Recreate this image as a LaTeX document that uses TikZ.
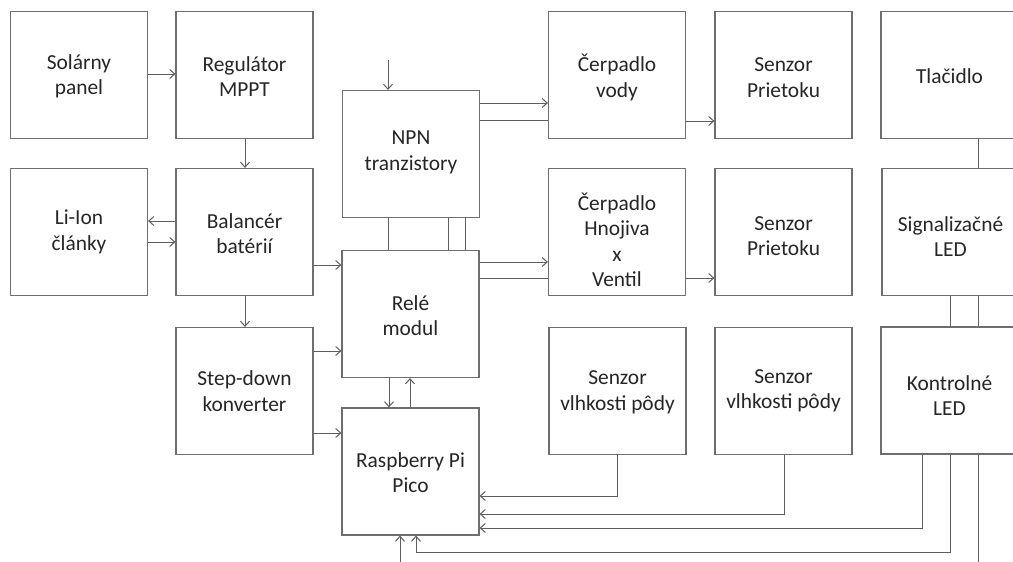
\documentclass[tikz,border=0pt]{standalone}
\usepackage{fontspec}
\setmainfont{Carlito}
\usetikzlibrary{arrows.meta,calc}
\definecolor{boxgray}{HTML}{6E6E6E}
\definecolor{linegray}{HTML}{5E5E5E}
\definecolor{txt}{HTML}{262626}
\newcommand\mybx[4]{\node[box,label={[lbl,yshift=#3]center:{#4}}] (#1) at (#2) {};}
\begin{document}
\begin{tikzpicture}[x=1pt,y=-1pt,
  box/.style={draw=boxgray,line width=1.2pt,minimum width=137pt,minimum height=127pt,inner sep=0pt},
  lbl/.style={inner sep=0pt,align=center,text=txt,font=\fontsize{21.4}{25.5}\selectfont},
  ln/.style={draw=linegray,line width=1pt},
  arr/.style={ln,-{Straight Barb[length=5pt,width=9pt,line width=1pt]}}]
\clip (0,0) rectangle (1013,562);
\fill[white] (0,0) rectangle (1013,562);
% boxes
\mybx{sol}{79,75}{-1.5pt}{Solárny\\panel}
\mybx{reg}{244.5,75}{-1.5pt}{Regulátor\\MPPT}
\mybx{li}{79,232}{0pt}{Li-Ion\\články}
\mybx{bal}{244.5,232}{-1.5pt}{Balancér\\batérií}
\mybx{sd}{244.5,391}{0pt}{Step-down\\konverter}
\mybx{npn}{411,154}{1.5pt}{NPN\\tranzistory}
\mybx{rele}{410.5,314}{-1.5pt}{Relé\\modul}
\mybx{pico}{410.5,471.5}{-1pt}{Raspberry Pi\\Pico}
\mybx{cv}{617,75}{-2.5pt}{Čerpadlo\\vody}
\mybx{ch}{617,232}{-8pt}{Čerpadlo\\Hnojiva\\x\\Ventil}
\mybx{sp1}{783.5,75}{-2.5pt}{Senzor\\Prietoku}
\mybx{sp2}{783.5,232}{-4pt}{Senzor\\Prietoku}
\mybx{sv1}{617.5,391}{-1.5pt}{Senzor\\vlhkosti pôdy}
\mybx{sv2}{783.5,391}{0pt}{Senzor\\vlhkosti pôdy}
\mybx{tl}{949.5,75}{-1pt}{Tlačidlo}
\mybx{sig}{950.5,232}{-4.5pt}{Signalizačné\\LED}
\mybx{kon}{949.5,390.5}{-5pt}{Kontrolné\\LED}
% power path
\draw[arr] (sol.east |- 0,74) -- (reg.west |- 0,74);
\draw[arr] (reg.south -| 245,0) -- (bal.north -| 245,0);
\draw[arr] (bal.west |- 0,221) -- (li.east |- 0,221);
\draw[arr] (li.east |- 0,242) -- (bal.west |- 0,242);
\draw[arr] (bal.east |- 0,265) -- (rele.west |- 0,265);
\draw[arr] (bal.south -| 245,0) -- (sd.north -| 245,0);
\draw[arr] (sd.east |- 0,351) -- (rele.west |- 0,351);
\draw[arr] (sd.east |- 0,433) -- (pico.west |- 0,433);
% NPN
\coordinate (npnin) at (388,60);
\draw[arr] (npnin) -- (npnin |- npn.north);
\draw[arr] (npn.east |- 0,103) -- (cv.west |- 0,103);
\draw[ln] (npn.east |- 0,120) -- (cv.west |- 0,120);
\draw[ln] (npn.south -| 388,0) -- (rele.north -| 388,0);
\draw[ln] (npn.south -| 448,0) -- (rele.north -| 448,0);
\draw[ln] (npn.south -| 465,0) -- (rele.north -| 465,0);
% relay
\draw[arr] (rele.east |- 0,262) -- (ch.west |- 0,262);
\draw[ln] (rele.east |- 0,278) -- (ch.west |- 0,278);
\draw[arr] (cv.east |- 0,121) -- (sp1.west |- 0,121);
\draw[arr] (ch.east |- 0,278) -- (sp2.west |- 0,278);
\draw[arr] (rele.south -| 389,0) -- (pico.north -| 389,0);
\draw[arr] (pico.north -| 410,0) -- (rele.south -| 410,0);
% sensors to pico
\draw[arr] (sv1.south -| 617,0) -- (617,496) -- (pico.east |- 0,496);
\draw[arr] (sv2.south -| 784,0) -- (784,514) -- (pico.east |- 0,514);
\draw[arr] (kon.south -| 922,0) -- (922,528) -- (pico.east |- 0,528);
\draw[arr] (kon.south -| 950,0) -- (950,552) -- (416,552) -- (pico.south -| 416,0);
\coordinate (konout) at (978,566);
\draw[ln] (kon.south -| konout) -- (konout);
\coordinate (picoin) at (400,566);
\draw[arr] (picoin) -- (picoin |- pico.south);
% right column links
\draw[ln] (tl.south -| 978,0) -- (sig.north -| 978,0);
\draw[ln] (sig.south -| 950,0) -- (kon.north -| 950,0);
\draw[ln] (sig.south -| 978,0) -- (kon.north -| 978,0);
\end{tikzpicture}
\end{document}
